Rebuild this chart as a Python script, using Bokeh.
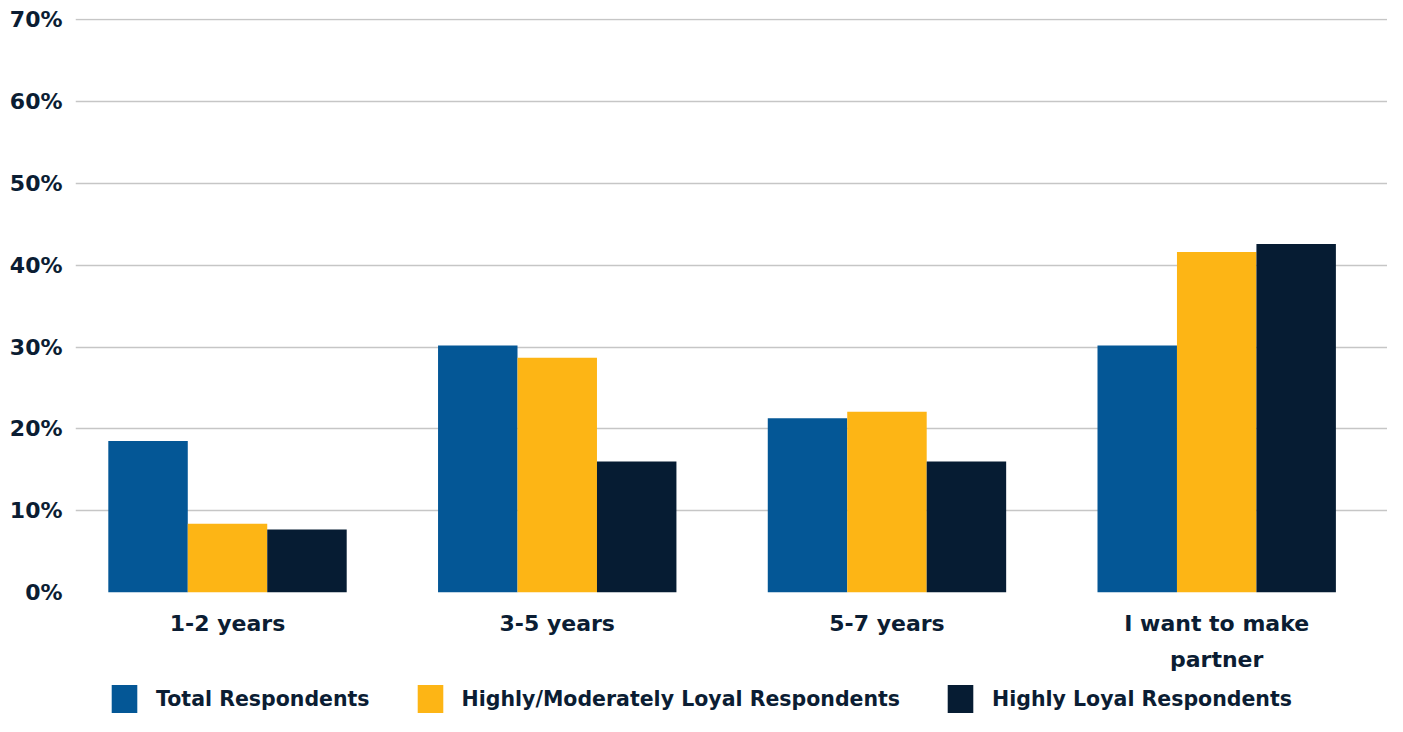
import numpy as np
from bokeh.plotting import figure
from bokeh.layouts import column
from bokeh.models import Range1d, FixedTicker, Legend, LegendItem, PrintfTickFormatter, ColumnDataSource
from bokeh.embed import file_html
from bokeh.resources import INLINE

categories = ["1-2 years", "3-5 years", "5-7 years", "I want to make\npartner"]
series = ["Total Respondents", "Highly/Moderately Loyal Respondents", "Highly Loyal Respondents"]
total_resp = [18.5, 30.2, 21.3, 30.2]
mod_loyal = [8.4, 28.7, 22.1, 41.6]
high_loyal = [7.7, 16.0, 16.0, 42.6]
y_ticks = [0, 10, 20, 30, 40, 50, 60, 70]
colors = ["#045796", "#FDB515", "#061C33"]

TEXT = "#0b1d33"
FONT = "DejaVu Sans"
W = 1387

p = figure(width=W, height=680, output_backend="svg", toolbar_location=None,
           x_range=Range1d(0.039, 4.018), y_range=Range1d(0, 70.15),
           min_border_left=75, min_border_right=0, min_border_top=18, min_border_bottom=88)
p.outline_line_color = None

centers = np.arange(len(categories)) + 0.5
bar_w = 0.241
for i, (vals, col) in enumerate(zip([total_resp, mod_loyal, high_loyal], colors)):
    p.vbar(x=centers + (i - 1) * bar_w, top=vals, bottom=0, width=bar_w,
           fill_color=col, line_color=None)

p.xgrid.grid_line_color = None
p.ygrid.grid_line_color = "#c6c6c6"
p.ygrid.grid_line_width = 1.5
p.ygrid.ticker = FixedTicker(ticks=y_ticks)

p.yaxis.ticker = FixedTicker(ticks=y_ticks)
p.yaxis.formatter = PrintfTickFormatter(format="%d%%")
p.yaxis.axis_line_color = None
p.yaxis.major_tick_line_color = None
p.yaxis.minor_tick_line_color = None
p.yaxis.major_label_standoff = 7
p.yaxis.major_label_text_font = FONT
p.yaxis.major_label_text_font_style = "bold"
p.yaxis.major_label_text_font_size = "22px"
p.yaxis.major_label_text_color = TEXT

p.xaxis.ticker = FixedTicker(ticks=list(centers))
p.xaxis.major_label_overrides = {float(c): lab for c, lab in zip(centers, categories)}
p.xaxis.axis_line_color = None
p.xaxis.major_tick_line_color = None
p.xaxis.minor_tick_line_color = None
p.xaxis.major_label_standoff = 12
p.xaxis.major_label_text_font = FONT
p.xaxis.major_label_text_font_style = "bold"
p.xaxis.major_label_text_font_size = "22px"
p.xaxis.major_label_text_color = TEXT
p.xaxis.major_label_text_line_height = 1.45

# legend strip below the chart (swatch renderers sit outside the visible range)
lg = figure(width=W, height=36, output_backend="svg", toolbar_location=None,
            x_range=Range1d(0, 1), y_range=Range1d(0, 1),
            min_border_left=0, min_border_right=0, min_border_top=0, min_border_bottom=0)
lg.outline_line_color = None
lg.axis.visible = False
lg.grid.visible = False
swatches = []
for col in colors:
    swatches.append(lg.vbar(x="x", top="top", width=0.1,
                            source=ColumnDataSource(dict(x=[-5.0], top=[0.0])),
                            fill_color=col, line_color=None))
legend = Legend(items=[LegendItem(label=s, renderers=[r]) for s, r in zip(series, swatches)],
                orientation="horizontal", location=(33, 0),
                glyph_width=32, glyph_height=35, label_standoff=16, spacing=44,
                padding=0, margin=0, border_line_color=None, background_fill_alpha=0,
                label_text_font=FONT, label_text_font_style="bold",
                label_text_font_size="20.5px", label_text_color=TEXT)
lg.add_layout(legend, "center")

layout = column(p, lg, spacing=0)
open("out.html", "w").write(file_html(layout, INLINE))
